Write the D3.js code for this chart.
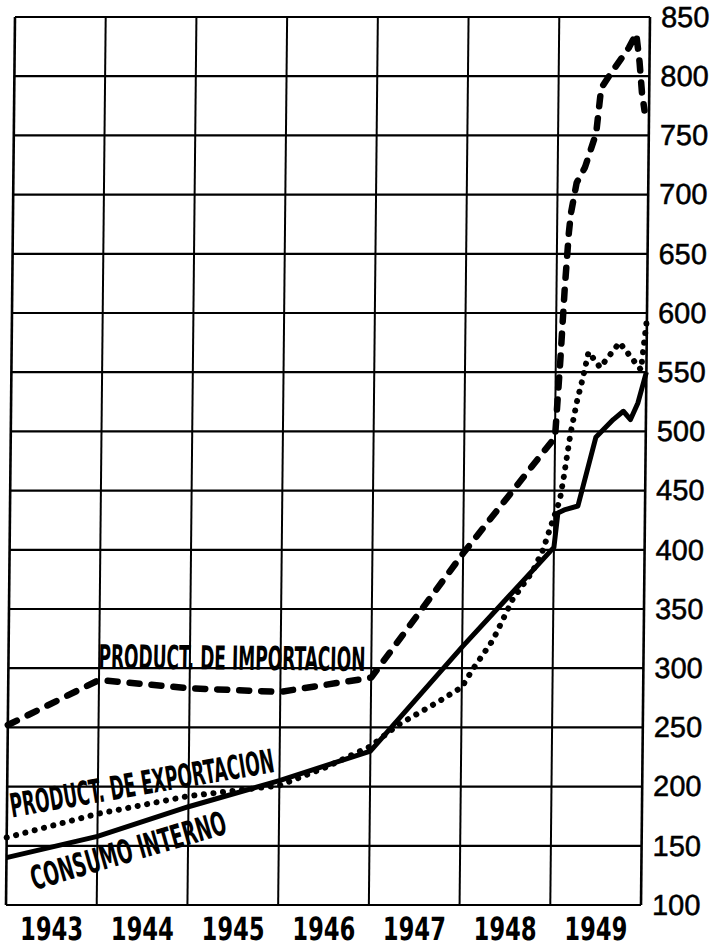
<!DOCTYPE html>
<html>
<head>
<meta charset="utf-8">
<script src="https://cdn.jsdelivr.net/npm/d3@7/dist/d3.min.js"></script>
<style>
  body { margin: 0; background: #fff; }
  svg { display: block; }
</style>
</head>
<body>
<div id="chart"></div>
<script>
// x is in decimal years: 1943.0 = start of 1943, 1950.0 = end of 1949
const yearLabels = ["1943", "1944", "1945", "1946", "1947", "1948", "1949"];
const valueTicks = [100, 150, 200, 250, 300, 350, 400, 450, 500, 550, 600, 650, 700, 750, 800, 850];

// PRODUCT. DE IMPORTACION (dashed)
const importYears = [1943.0, 1944.0, 1945.0, 1946.0, 1947.0, 1948.0, 1949.0, 1949.05, 1949.09, 1949.13, 1949.15,
    1949.21, 1949.3, 1949.42, 1949.47, 1949.58, 1949.68, 1949.77, 1949.85, 1949.89, 1949.92, 1949.95];
const importValues = [252, 290, 283, 280, 292, 397, 495, 560, 620, 668, 684,
    710, 723, 752, 790, 803, 814, 824, 836, 812, 786, 771];

// PRODUCT. DE EXPORTACION (dotted)
const exportYears = [1943.0, 1944.0, 1945.0, 1946.0, 1946.5, 1947.0, 1947.3, 1947.75, 1948.0, 1948.11, 1948.34,
    1948.55, 1948.77, 1948.88, 1948.96, 1949.06, 1949.1, 1949.17, 1949.24, 1949.3, 1949.36, 1949.49, 1949.7, 1949.94, 1950.0];
const exportValues = [157, 177, 192, 201, 216, 234, 252, 272, 284, 298, 324,
    358, 382, 400, 419, 442, 461, 498, 526, 545, 567, 554, 575, 552, 595];

// CONSUMO INTERNO (solid)
const consumoYears = [1943.0, 1944.0, 1945.0, 1946.0, 1947.0, 1948.0, 1949.0, 1949.04, 1949.12, 1949.26,
    1949.45, 1949.64, 1949.75, 1949.83, 1949.91, 1950.0];
const consumoValues = [140, 158, 183, 205, 230, 318, 402, 431, 434, 437,
    495, 510, 517, 510, 524, 550];

const W = 723, H = 947;
const MARGIN = {LEFT: 6, RIGHT: 82, TOP: 17, BOTTOM: 42};

const x = d3.scaleLinear().domain([1943, 1950]).range([MARGIN.LEFT, W - MARGIN.RIGHT]);
const y = d3.scaleLinear().domain([100, 850]).range([H - MARGIN.BOTTOM, MARGIN.TOP]);

const svg = d3.select("#chart").append("svg")
    .attr("width", W)
    .attr("height", H);

svg.append("rect").attr("width", W).attr("height", H).attr("fill", "#fff");

// the scanned sheet leans a little: top edge sits ~9px right of the bottom edge
const g = svg.append("g")
    .attr("transform", `translate(0,${y(100)}) skewX(-0.58) translate(0,${-y(100)})`);

// grid
g.append("g").selectAll("line")
    .data(valueTicks)
    .enter().append("line")
    .attr("x1", x(1943)).attr("x2", x(1950))
    .attr("y1", d => y(d)).attr("y2", d => y(d))
    .attr("stroke", "#000")
    .attr("stroke-width", 2.2);

g.append("g").selectAll("line")
    .data(d3.range(1943, 1951))
    .enter().append("line")
    .attr("x1", d => x(d)).attr("x2", d => x(d))
    .attr("y1", y(850)).attr("y2", y(100))
    .attr("stroke", "#000")
    .attr("stroke-width", d => (d === 1943 || d === 1950) ? 2.6 : 2);

// right value axis
const yAxis = g.append("g")
    .attr("transform", `translate(${x(1950)},0)`)
    .call(d3.axisRight(y).tickValues(valueTicks).tickSize(0).tickPadding(11));
yAxis.select(".domain").remove();
yAxis.selectAll("text")
    .attr("font-family", "'Liberation Sans', Arial, sans-serif")
    .attr("font-size", 29)
    .attr("fill", "#000")
    .attr("stroke", "#000")
    .attr("stroke-width", 0.5);

// year labels, centred under each column
const xAxis = g.append("g")
    .attr("transform", `translate(0,${y(100)})`)
    .call(d3.axisBottom(x)
        .tickValues(yearLabels.map(d => +d + 0.5))
        .tickFormat((d, i) => yearLabels[i])
        .tickSize(0).tickPadding(12));
xAxis.select(".domain").remove();
xAxis.selectAll("text")
    .attr("font-family", "'Liberation Sans Narrow', 'DejaVu Sans Condensed', sans-serif")
    .attr("font-weight", "bold")
    .attr("font-size", 32)
    .attr("fill", "#000")
    .attr("textLength", 63)
    .attr("lengthAdjust", "spacingAndGlyphs");

// series
const line = d3.line().x(d => x(d[0])).y(d => y(d[1]));
const zip = (a, b) => a.map((v, i) => [v, b[i]]);

g.append("path")
    .datum(zip(consumoYears, consumoValues))
    .attr("d", line)
    .attr("fill", "none")
    .attr("stroke", "#000")
    .attr("stroke-width", 5)
    .attr("stroke-linejoin", "round");

g.append("path")
    .datum(zip(exportYears, exportValues))
    .attr("d", line)
    .attr("fill", "none")
    .attr("stroke", "#000")
    .attr("stroke-width", 6)
    .attr("stroke-linecap", "round")
    .attr("stroke-dasharray", "0.1 9.5");

g.append("path")
    .datum(zip(importYears, importValues))
    .attr("d", line)
    .attr("fill", "none")
    .attr("stroke", "#000")
    .attr("stroke-width", 6.5)
    .attr("stroke-linecap", "round")
    .attr("stroke-linejoin", "round")
    .attr("stroke-dasharray", "10 12");

// hand lettered series names
const labels = [
    {text: "PRODUCT. DE IMPORTACION", at: [1943.99, 300], angle: 0.6, len: 267},
    {text: "PRODUCT. DE EXPORTACION", at: [1943.055, 174], angle: -9.8, len: 267},
    {text: "CONSUMO  INTERNO", at: [1943.31, 112.5], angle: -16.4, len: 202}
];
g.append("g").selectAll("text")
    .data(labels)
    .enter().append("text")
    .attr("transform", d => `translate(${x(d.at[0])},${y(d.at[1])}) rotate(${d.angle})`)
    .attr("font-family", "'Liberation Sans Narrow', 'DejaVu Sans Condensed', sans-serif")
    .attr("font-weight", "bold")
    .attr("font-size", 33)
    .attr("fill", "#000")
    .attr("textLength", d => d.len)
    .attr("lengthAdjust", "spacingAndGlyphs")
    .text(d => d.text);
</script>
</body>
</html>
